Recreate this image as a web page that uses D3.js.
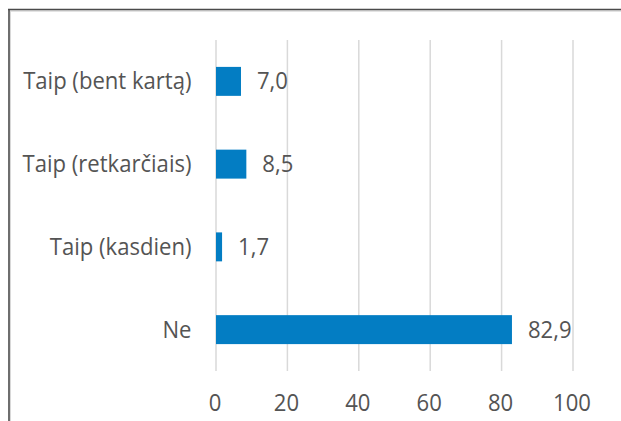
<!DOCTYPE html>
<html><head><meta charset="utf-8">
<script src="https://cdn.jsdelivr.net/npm/d3@7"></script>
<style>html,body{margin:0;padding:0;background:#fff;}svg{display:block;}</style>
</head><body>
<script>
const categories = ["Taip (bent kartą)", "Taip (retkarčiais)", "Taip (kasdien)", "Ne"];
const values = [7.0, 8.5, 1.7, 82.9];
const xTicks = [0, 20, 40, 60, 80, 100];

const W = 621, H = 421;
const svg = d3.select("body").append("svg").attr("width", W).attr("height", H);
svg.append("rect").attr("width", W).attr("height", H).attr("fill", "#fff");

// frame (top + left edges visible)
svg.append("line").attr("x1", 9).attr("x2", W).attr("y1", 11).attr("y2", 11).attr("stroke", "#c8c8c8").attr("stroke-width", 1);
svg.append("line").attr("x1", 10.5).attr("x2", 10.5).attr("y1", 11).attr("y2", H).attr("stroke", "#d8d8d8").attr("stroke-width", 1);
svg.append("line").attr("x1", 8).attr("x2", W).attr("y1", 9.5).attr("y2", 9.5).attr("stroke", "#4a4a4a").attr("stroke-width", 1.6);
svg.append("line").attr("x1", 9).attr("x2", 9).attr("y1", 9).attr("y2", H).attr("stroke", "#4a4a4a").attr("stroke-width", 1.6);

const x = d3.scaleLinear().domain([0, 100]).range([216, 573]);
const y = d3.scaleBand().domain(categories).range([40, 371]).paddingInner(0.65).paddingOuter(0.325);

const fontFam = "'Open Sans', sans-serif";
const fontSize = 23;
const txtColor = "#545454";
const squeeze = 0.96;
function condense(sel) {
  sel.each(function () {
    const n = this.getComputedTextLength();
    d3.select(this).attr("textLength", n * squeeze).attr("lengthAdjust", "spacingAndGlyphs");
  });
}

// gridlines
svg.append("g").selectAll("line").data(xTicks).join("line")
  .attr("x1", d => x(d)).attr("x2", d => x(d))
  .attr("y1", 40).attr("y2", 371)
  .attr("stroke", "#d9d9d9").attr("stroke-width", 1.5);

// x tick labels
svg.append("g").selectAll("text").data(xTicks).join("text")
  .attr("x", d => x(d) - 1).attr("y", 411)
  .attr("text-anchor", "middle")
  .attr("font-family", fontFam).attr("font-size", fontSize).attr("fill", txtColor)
  .text(d => d).call(condense);

const data = categories.map((c, i) => ({ c, v: values[i] }));

// bars
svg.append("g").selectAll("rect").data(data).join("rect")
  .attr("x", x(0)).attr("y", d => y(d.c))
  .attr("width", d => x(d.v) - x(0)).attr("height", y.bandwidth())
  .attr("fill", "#037dc3");

// category labels
svg.append("g").selectAll("text").data(data).join("text")
  .attr("x", 191.5).attr("y", d => y(d.c) + y.bandwidth() / 2 + 8)
  .attr("text-anchor", "end")
  .attr("font-family", fontFam).attr("font-size", fontSize).attr("fill", txtColor)
  .text(d => d.c).call(condense);

// value labels
const fmt = v => d3.format(".1f")(v).replace(".", ",");
svg.append("g").selectAll("text").data(data).join("text")
  .attr("x", d => x(d.v) + 16).attr("y", d => y(d.c) + y.bandwidth() / 2 + 8)
  .attr("font-family", fontFam).attr("font-size", fontSize).attr("fill", txtColor)
  .text(d => fmt(d.v)).call(condense);
</script>
</body></html>
